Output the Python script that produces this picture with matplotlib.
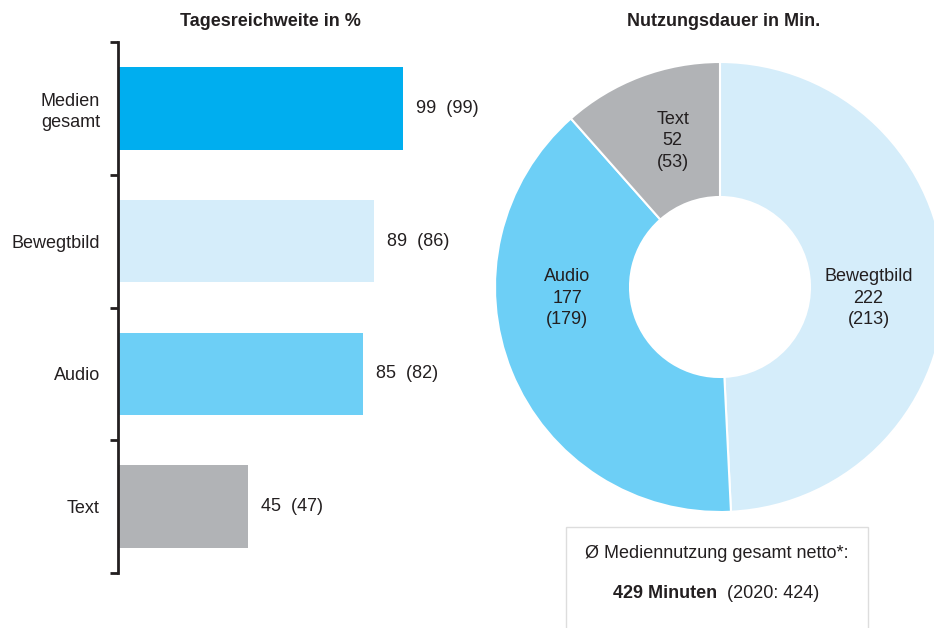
import matplotlib.pyplot as plt
from matplotlib.patches import Rectangle

# --- Data ---
bar_labels = ["Medien\ngesamt", "Bewegtbild", "Audio", "Text"]
reach_2021 = [99, 89, 85, 45]
reach_2020 = [99, 86, 82, 47]
bar_colors = ["#00AEEF", "#D5EDFA", "#6DCFF6", "#B1B3B6"]

pie_labels = ["Bewegtbild", "Audio", "Text"]
minutes_2021 = [222, 177, 52]
minutes_2020 = [213, 179, 53]
pie_colors = ["#D5EDFA", "#6DCFF6", "#B1B3B6"]
# label anchor points inside the donut (layout only)
pie_label_xy = [(0.66, -0.05), (-0.68, -0.05), (-0.21, 0.65)]

total_minutes = 429
total_minutes_2020 = 424

TXT = "#231F20"
FS = 13
plt.rcParams['font.family'] = ['Liberation Sans', 'DejaVu Sans']
plt.rcParams['text.color'] = TXT

W, H = 934, 628
fig = plt.figure(figsize=(W / 100, H / 100), dpi=100)


def px_box(x0, y0, x1, y1):
    # pixel box (top-left origin) -> figure fraction
    return [x0 / W, 1 - y1 / H, (x1 - x0) / W, (y1 - y0) / H]


# --- Left: bar chart ---
ax = fig.add_axes(px_box(118, 42, 480, 573))
ypos = list(range(len(bar_labels)))
ax.barh(ypos, reach_2021, height=0.62, color=bar_colors)
ax.set_ylim(len(bar_labels) - 0.5, -0.5)
ax.set_xlim(0, 362 / 2.88)
for y, v, old in zip(ypos, reach_2021, reach_2020):
    ax.text(v + 4.5, y, f"{v}  ({old})", va="center", ha="left", fontsize=FS)

ax.set_yticks(ypos)
ax.set_yticklabels(bar_labels, fontsize=FS, color=TXT, linespacing=1.25)
ax.tick_params(axis="y", which="major", length=0, pad=13)
ax.set_yticks([i - 0.5 for i in range(len(bar_labels) + 1)], minor=True)
ax.tick_params(axis="y", which="minor", length=6, width=2, color=TXT, direction="out")
ax.set_xticks([])
for s in ["top", "right", "bottom"]:
    ax.spines[s].set_visible(False)
ax.spines["left"].set_linewidth(2)
ax.spines["left"].set_color(TXT)
fig.text(270 / W, 1 - 22 / H, "Tagesreichweite in %", ha="center", va="center",
         fontsize=FS, fontweight="bold")

# --- Right: donut ---
R = 225
ax2 = fig.add_axes(px_box(720 - R, 287 - R, 720 + R, 287 + R))
ax2.pie(minutes_2021, colors=pie_colors, startangle=90, counterclock=False, radius=1,
        wedgeprops=dict(width=0.6, edgecolor="white", linewidth=1.5))
ax2.set_xlim(-1, 1)
ax2.set_ylim(-1, 1)
ax2.set_aspect("equal")
ax2.axis("off")
for name, v, old, (lx, ly) in zip(pie_labels, minutes_2021, minutes_2020, pie_label_xy):
    ax2.text(lx, ly, f"{name}\n{v}\n({old})", ha="center", va="center",
             fontsize=FS, linespacing=1.35)
fig.text(724 / W, 1 - 22 / H, "Nutzungsdauer in Min.", ha="center", va="center",
         fontsize=FS, fontweight="bold")

# --- Summary box ---
fig.patches.append(Rectangle((566 / W, -0.05), (868 - 566) / W, 0.05 + 1 - 527 / H,
                             transform=fig.transFigure, facecolor="white",
                             edgecolor="#DDDDDD", linewidth=1))
fig.text(717 / W, 1 - 553 / H, "Ø Mediennutzung gesamt netto*:", ha="center",
         va="center", fontsize=FS)
fig.text(717 / W, 1 - 593 / H, f"{total_minutes} Minuten", ha="right",
         va="center", fontsize=FS, fontweight="bold")
fig.text(727 / W, 1 - 593 / H, f"(2020: {total_minutes_2020})", ha="left",
         va="center", fontsize=FS)

fig.savefig("out.png", dpi=100)
